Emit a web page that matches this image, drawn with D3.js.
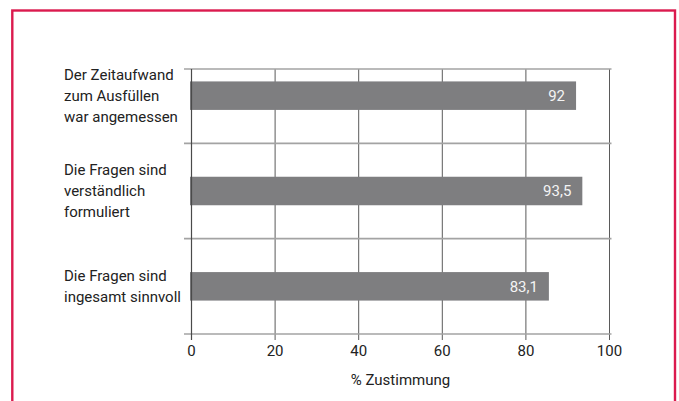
<!DOCTYPE html>
<html>
<head>
<meta charset="utf-8">
<title>Zustimmung</title>
<script src="https://cdn.jsdelivr.net/npm/d3@7"></script>
<style>
	body { margin: 0; background: #fff; }
	text { font-family: Roboto, "Open Sans", sans-serif; }
</style>
</head>
<body>
<div id="chart"></div>
<script>

	// data
	var categories = [
		["Der Zeitaufwand", "zum Ausfüllen", "war angemessen"],
		["Die Fragen sind", "verständlich", "formuliert"],
		["Die Fragen sind", "ingesamt sinnvoll"]
	];
	var values = [92, 93.5, 85.5];          // bar lengths as drawn
	var valueLabels = ["92", "93,5", "83,1"]; // printed labels
	var xTicks = [0, 20, 40, 60, 80, 100];
	var xTitle = "% Zustimmung";

	var width = 679, height = 401;

	var svg = d3.select("#chart").append("svg")
		.attr("width", width)
		.attr("height", height);

	// red frame (bottom edge runs off the page)
	svg.append("rect")
		.attr("x", 12.3)
		.attr("y", 10.5)
		.attr("width", 662.7)
		.attr("height", 500)
		.attr("fill", "none")
		.attr("stroke", "#db1a4e")
		.attr("stroke-width", 2.4);

	var x = d3.scaleLinear().domain([0, 100]).range([191.5, 609.5]);
	var y = d3.scaleBand()
		.domain(d3.range(categories.length))
		.range([48, 334])
		.paddingInner(0)
		.paddingOuter(0);

	var barH = 28.5;
	var yTop = 69, yBottom = 334;

	// vertical gridlines
	svg.append("g").selectAll("line")
		.data(xTicks.slice(1))
		.enter().append("line")
		.attr("x1", function(d) { return x(d); })
		.attr("x2", function(d) { return x(d); })
		.attr("y1", yTop)
		.attr("y2", yBottom + 6)
		.attr("stroke", "#5a5a5a")
		.attr("stroke-width", 1);

	// horizontal lines: top, between categories, bottom axis
	var hLines = [yTop].concat(d3.range(1, categories.length).map(function(i) { return y(i); }));
	hLines.push(yBottom);
	svg.append("g").selectAll("line")
		.data(hLines)
		.enter().append("line")
		.attr("x1", 184)
		.attr("x2", x(100) + 2)
		.attr("y1", function(d) { return d; })
		.attr("y2", function(d) { return d; })
		.attr("stroke", "#a3a3a3")
		.attr("stroke-width", 1.6);

	// bars
	svg.append("g").selectAll("rect")
		.data(values)
		.enter().append("rect")
		.attr("x", x(0) - 1.5)
		.attr("y", function(d, i) { return y(i) + y.bandwidth() / 2 - barH / 2; })
		.attr("width", function(d) { return x(d) - x(0) + 1.5; })
		.attr("height", barH)
		.attr("fill", "#7e7e80");

	// value labels inside bars
	svg.append("g").selectAll("text")
		.data(values)
		.enter().append("text")
		.attr("x", function(d) { return x(d) - 11; })
		.attr("y", function(d, i) { return y(i) + y.bandwidth() / 2; })
		.attr("dy", "0.36em")
		.attr("text-anchor", "end")
		.attr("font-size", "15px")
		.attr("fill", "#f4f4f4")
		.text(function(d, i) { return valueLabels[i]; });

	// zero axis line on top of bars
	svg.append("line")
		.attr("x1", x(0)).attr("x2", x(0))
		.attr("y1", yTop).attr("y2", yBottom + 6)
		.attr("stroke", "#4a4a4a")
		.attr("stroke-width", 1.2);

	// x tick labels
	svg.append("g").selectAll("text")
		.data(xTicks)
		.enter().append("text")
		.attr("x", function(d) { return x(d); })
		.attr("y", 351)
		.attr("dy", "0.36em")
		.attr("text-anchor", "middle")
		.attr("font-size", "15px")
		.attr("fill", "#222")
		.text(function(d) { return d; });

	svg.append("text")
		.attr("x", x(50))
		.attr("y", 380)
		.attr("dy", "0.36em")
		.attr("text-anchor", "middle")
		.attr("font-size", "15px")
		.attr("fill", "#222")
		.text(xTitle);

	// category labels, multi-line, centred on the bar
	var lineH = 21;
	var cat = svg.append("g").selectAll("text")
		.data(categories)
		.enter().append("text")
		.attr("x", 64)
		.attr("y", function(d, i) { return y(i) + y.bandwidth() / 2 - (d.length - 1) * lineH / 2; })
		.attr("font-size", "15px")
		.attr("fill", "#222");

	cat.selectAll("tspan")
		.data(function(d) { return d; })
		.enter().append("tspan")
		.attr("x", 64)
		.attr("dy", function(d, i) { return i === 0 ? "0.36em" : lineH; })
		.text(function(d) { return d; });

</script>
</body>
</html>
